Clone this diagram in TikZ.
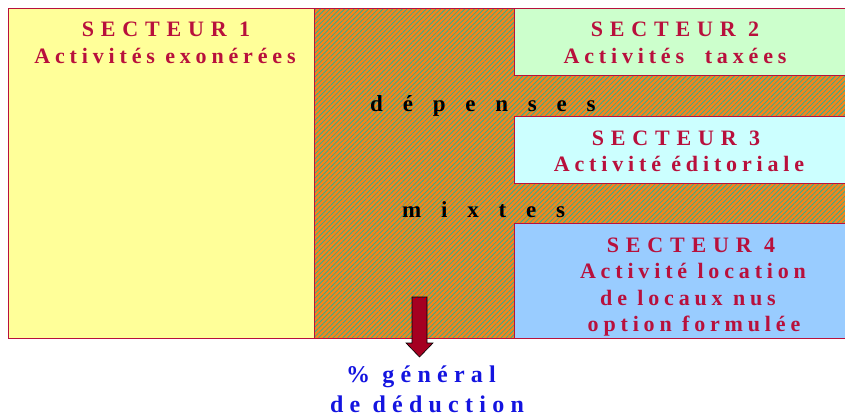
\documentclass[tikz,border=0pt]{standalone}
\usepackage{fontspec}
\setmainfont{Liberation Serif}
\newfontfamily\capsfont[LetterSpace=31]{Liberation Serif}
\newfontfamily\boxfont[LetterSpace=22]{Liberation Serif}
\newfontfamily\widefont[LetterSpace=86]{Liberation Serif}
\newfontfamily\bluefont[LetterSpace=26]{Liberation Serif}
\usetikzlibrary{patterns.meta}
\definecolor{crimson}{HTML}{B8103C}
\definecolor{yel}{HTML}{FFFF99}
\definecolor{grn}{HTML}{CCFFCC}
\definecolor{cya}{HTML}{CCFFFF}
\definecolor{blu}{HTML}{99CCFF}
\definecolor{orng}{HTML}{F5841C}
\definecolor{hatch}{HTML}{30B08C}
\definecolor{arrowred}{HTML}{A50021}
\definecolor{txtblue}{HTML}{1414E0}
\tikzset{
  sectorbox/.style={draw=crimson, line width=0.8pt, inner sep=0, anchor=north west},
  captxt/.style={text=crimson, font=\capsfont\bfseries\fontsize{22}{24}\selectfont, inner sep=0, anchor=base},
  boxtxt/.style={text=crimson, font=\boxfont\bfseries\fontsize{22}{24}\selectfont, inner sep=0, anchor=base},
  widetxt/.style={text=black, font=\widefont\bfseries\fontsize{23}{24}\selectfont, inner sep=0, anchor=base west},
  bluetxt/.style={text=txtblue, font=\bluefont\bfseries\fontsize{24}{26}\selectfont, inner sep=0, anchor=base},
}
\begin{document}
\begin{tikzpicture}[x=1pt,y=-1pt]
\useasboundingbox (0,0) rectangle (845,416);
% hatched middle region
\node[sectorbox, fill=orng, minimum width=540pt, minimum height=330pt] (mid) at (314,8) {};
\fill[pattern={Lines[angle=45,distance=3.4pt,line width=0.8pt]}, pattern color=hatch] (mid.north west) rectangle (mid.south east);
\draw[crimson, line width=0.8pt] (mid.north west) rectangle (mid.south east);
% sectors
\node[sectorbox, fill=yel, minimum width=306pt, minimum height=330pt] (sec1) at (8,8) {};
\node[sectorbox, fill=grn, minimum width=340pt, minimum height=67pt] (sec2) at (514,8) {};
\node[sectorbox, fill=cya, minimum width=340pt, minimum height=67pt] (sec3) at (514,116) {};
\node[sectorbox, fill=blu, minimum width=340pt, minimum height=115pt] (sec4) at (514,223) {};
% texts
\node[captxt] (s1a) at (166,36.5) {SECTEUR 1};
\node[boxtxt]  (s1b) at (165,63) {Activités exonérées};
\node[captxt] (s2a) at (675,36.5) {SECTEUR 2};
\node[boxtxt]  (s2b) at (675,63) {Activités~ taxées};
\node[captxt] (s3a) at (676,145) {SECTEUR 3};
\node[boxtxt]  (s3b) at (679,171) {Activité éditoriale};
\node[captxt] (s4a) at (691,252) {SECTEUR 4};
\node[boxtxt]  (s4b) at (693,278) {Activité location};
\node[boxtxt]  (s4c) at (688,305) {de locaux nus};
\node[boxtxt]  (s4d) at (694,331) {option formulée};
\node[widetxt] (dep) at (370,111) {dépenses};
\node[widetxt] (mix) at (402,217) {mixtes};
\node[bluetxt] (g1) at (421,382) {\% général};
\node[bluetxt] (g2) at (427,412) {de déduction};
% block arrow
\filldraw[fill=arrowred, draw=black, line width=0.6pt]
  (412,297) -- (427,297) -- (427,343) -- (433,343) -- (419.5,357) -- (406,343) -- (412,343) -- cycle;
\end{tikzpicture}
\end{document}
